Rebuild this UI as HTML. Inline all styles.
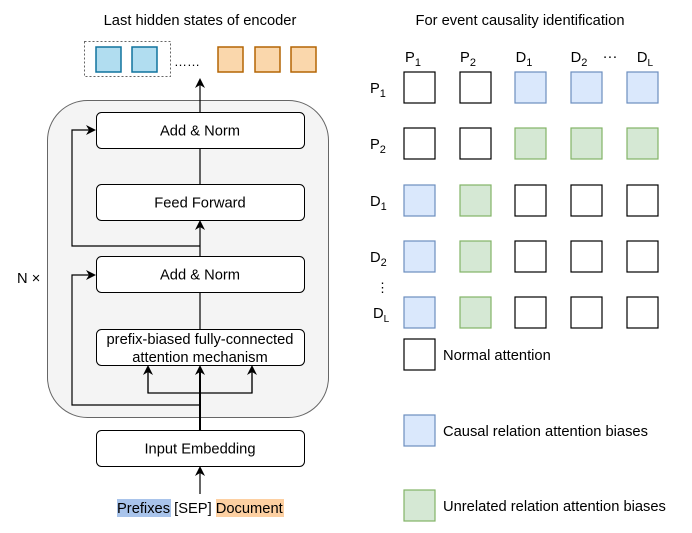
<!DOCTYPE html>
<html><head><style>body{margin:0;background:#fff}svg{display:block}text{font-family:"Liberation Sans",sans-serif;fill:#000}</style></head><body>
<svg width="692" height="533" viewBox="0 0 692 533" xmlns="http://www.w3.org/2000/svg">
<defs><marker id="a" markerWidth="10" markerHeight="10" refX="8" refY="5" orient="auto" markerUnits="userSpaceOnUse"><path d="M0,0 L10,5 L0,10 L3,5 Z" fill="#000"/></marker></defs>
<text x="200" y="25" font-size="14.7" text-anchor="middle">Last hidden states of encoder</text>
<rect x="84.5" y="41.5" width="86" height="35" fill="none" stroke="#666" stroke-dasharray="2,2"/>
<g stroke-width="1.5"><rect x="96" y="47" width="25" height="25" fill="#b1ddf0" stroke="#10739e"/>
<rect x="132" y="47" width="25" height="25" fill="#b1ddf0" stroke="#10739e"/>
<rect x="218" y="47" width="25" height="25" fill="#fad7ac" stroke="#b46504"/>
<rect x="255" y="47" width="25" height="25" fill="#fad7ac" stroke="#b46504"/>
<rect x="291" y="47" width="25" height="25" fill="#fad7ac" stroke="#b46504"/></g>
<text x="174" y="66" font-size="13">……</text>
<rect x="47.5" y="100.5" width="281" height="317" rx="40" fill="#f4f4f4" stroke="#666"/>
<g fill="none" stroke="#000" stroke-width="1.2">
<line x1="200" y1="112" x2="200" y2="80" marker-end="url(#a)"/>
<line x1="200" y1="184" x2="200" y2="148"/>
<line x1="200" y1="256" x2="200" y2="222" marker-end="url(#a)"/>
<polyline points="200,246 72,246 72,130 94,130" marker-end="url(#a)"/>
<line x1="200" y1="329" x2="200" y2="292"/>
<line x1="200" y1="430" x2="200" y2="367" marker-end="url(#a)" stroke-width="2"/>
<polyline points="148,367 148,393 252,393 252,367"/>
<line x1="148" y1="393" x2="148" y2="367" marker-end="url(#a)"/>
<line x1="252" y1="393" x2="252" y2="367" marker-end="url(#a)"/>
<polyline points="200,405 72,405 72,275 94,275" marker-end="url(#a)"/>
<line x1="200" y1="494" x2="200" y2="468" marker-end="url(#a)"/>
</g>
<g fill="#fff" stroke="#000" stroke-width="1">
<rect x="96.5" y="112.5" width="208" height="36" rx="5"/>
<rect x="96.5" y="184.5" width="208" height="36" rx="5"/>
<rect x="96.5" y="256.5" width="208" height="36" rx="5"/>
<rect x="96.5" y="329.5" width="208" height="36" rx="5"/>
<rect x="96.5" y="430.5" width="208" height="36" rx="5"/>
</g>
<g font-size="14.7" text-anchor="middle">
<text x="200" y="135.5">Add &amp; Norm</text>
<text x="200" y="207.5">Feed Forward</text>
<text x="200" y="279.5">Add &amp; Norm</text>
<text x="200" y="344">prefix-biased fully-connected</text>
<text x="200" y="362">attention mechanism</text>
<text x="200" y="453.5">Input Embedding</text>
</g>
<text x="17" y="283" font-size="14.7">N ×</text>
<rect x="117" y="499" width="54" height="18" fill="#a9c4eb"/>
<rect x="216" y="499" width="68" height="18" fill="#fdd0a2"/>
<text x="117" y="513" font-size="14.7">Prefixes [SEP] Document</text>
<text x="520" y="25" font-size="14.7" text-anchor="middle">For event causality identification</text>
<g font-size="14.7" text-anchor="middle">
<text x="413" y="62">P<tspan font-size="11" dy="4">1</tspan></text>
<text x="468" y="62">P<tspan font-size="11" dy="4">2</tspan></text>
<text x="524" y="62">D<tspan font-size="11" dy="4">1</tspan></text>
<text x="579" y="62">D<tspan font-size="11" dy="4">2</tspan></text>
<text x="610" y="61">···</text>
<text x="645" y="62">D<tspan font-size="10" dy="4">L</tspan></text>
</g>
<g font-size="14.7">
<text x="370" y="93">P<tspan font-size="11" dy="4">1</tspan></text>
<text x="370" y="149">P<tspan font-size="11" dy="4">2</tspan></text>
<text x="370" y="206">D<tspan font-size="11" dy="4">1</tspan></text>
<text x="370" y="262">D<tspan font-size="11" dy="4">2</tspan></text>
<text x="376" y="292" font-size="13">⋮</text>
<text x="373" y="318">D<tspan font-size="10" dy="4">L</tspan></text>
</g>
<g stroke-width="1.2">
<g fill="#fff" stroke="#000">
<rect x="404" y="72" width="31" height="31"/><rect x="460" y="72" width="31" height="31"/>
<rect x="404" y="128" width="31" height="31"/><rect x="460" y="128" width="31" height="31"/>
<rect x="515" y="185" width="31" height="31"/><rect x="571" y="185" width="31" height="31"/><rect x="627" y="185" width="31" height="31"/>
<rect x="515" y="241" width="31" height="31"/><rect x="571" y="241" width="31" height="31"/><rect x="627" y="241" width="31" height="31"/>
<rect x="515" y="297" width="31" height="31"/><rect x="571" y="297" width="31" height="31"/><rect x="627" y="297" width="31" height="31"/>
<rect x="404" y="339" width="31" height="31"/>
</g>
<g fill="#dae8fc" stroke="#6c8ebf">
<rect x="515" y="72" width="31" height="31"/><rect x="571" y="72" width="31" height="31"/><rect x="627" y="72" width="31" height="31"/>
<rect x="404" y="185" width="31" height="31"/><rect x="404" y="241" width="31" height="31"/><rect x="404" y="297" width="31" height="31"/>
<rect x="404" y="415" width="31" height="31"/>
</g>
<g fill="#d5e8d4" stroke="#82b366">
<rect x="515" y="128" width="31" height="31"/><rect x="571" y="128" width="31" height="31"/><rect x="627" y="128" width="31" height="31"/>
<rect x="460" y="185" width="31" height="31"/><rect x="460" y="241" width="31" height="31"/><rect x="460" y="297" width="31" height="31"/>
<rect x="404" y="490" width="31" height="31"/>
</g>
</g>
<g font-size="14.7">
<text x="443" y="360">Normal attention</text>
<text x="443" y="436">Causal relation attention biases</text>
<text x="443" y="511">Unrelated relation attention biases</text>
</g>
</svg>
</body></html>
